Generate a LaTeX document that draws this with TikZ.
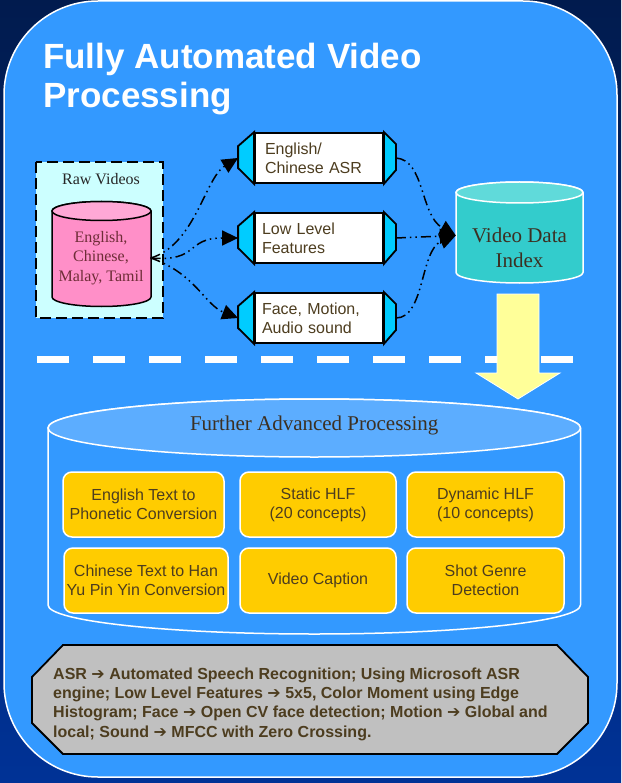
\documentclass[tikz,border=0pt]{standalone}
\usepackage{fontspec}
\setmainfont{Liberation Serif}
\setsansfont{Liberation Sans}
\newfontfamily\arrowsfont{DejaVu Sans}
\usetikzlibrary{arrows.meta}

\definecolor{navytop}{RGB}{1,27,78}
\definecolor{navybot}{RGB}{0,50,150}
\definecolor{panelblue}{RGB}{51,153,255}
\definecolor{lidblue}{RGB}{92,173,255}
\definecolor{rawcyan}{RGB}{204,255,255}
\definecolor{pinkbody}{RGB}{255,143,200}
\definecolor{pinklid}{RGB}{255,168,214}
\definecolor{pinktext}{RGB}{110,45,55}
\definecolor{capcyan}{RGB}{0,204,255}
\definecolor{tealbody}{RGB}{51,204,204}
\definecolor{teallid}{RGB}{96,218,218}
\definecolor{arrowyellow}{RGB}{255,255,153}
\definecolor{boxgold}{RGB}{255,204,0}
\definecolor{notegrey}{RGB}{192,192,192}
\definecolor{txtbrown}{RGB}{77,61,31}
\definecolor{darktext}{RGB}{60,48,34}

\newcommand{\notearrow}{{\arrowsfont\bfseries ➔}}

\tikzset{
  proc/.style={draw=black, line width=1.8pt, fill=white, minimum width=128pt,
    minimum height=50pt, inner sep=0pt, text width=114pt, align=left,
    font=\sffamily\fontsize{16}{19}\selectfont, text=txtbrown},
  capend/.style={draw=black, line width=1.8pt, fill=capcyan, line join=miter},
  flow/.style={line width=1.5pt,
    dash pattern=on 10pt off 4pt on 1.5pt off 4pt on 1.5pt off 4pt,
    -{Triangle[length=16pt,width=15pt]}},
  hlf/.style={draw=white, line width=1.5pt, fill=boxgold, rounded corners=9pt,
    minimum height=65pt, inner sep=0pt, align=center,
    font=\sffamily\fontsize{16}{19}\selectfont, text=txtbrown},
}

\begin{document}
\begin{tikzpicture}[x=1pt, y=-1pt]
\useasboundingbox (0,0) rectangle (621,783);

% backdrop and main panel
\shade[top color=navytop, bottom color=navybot] (0,0) rectangle (621,783);
\filldraw[fill=panelblue, draw=white, line width=1.5pt, rounded corners=94pt]
  (4,1) rectangle (617,777);

% title
\node[anchor=base west, inner sep=0pt, text=white,
  font=\sffamily\bfseries\fontsize{35}{40}\selectfont] (title1) at (43,69) {Fully Automated Video};
\node[anchor=base west, inner sep=0pt, text=white,
  font=\sffamily\bfseries\fontsize{35}{40}\selectfont] (title2) at (43,108) {Processing};

% raw video store
\draw[fill=rawcyan, draw=black, line width=2pt, dash pattern=on 11pt off 5pt]
  (36,162) rectangle (163,318);
\node[font=\fontsize{16}{19}\selectfont, text=black!85] (rawlabel) at (101,179) {Raw Videos};
\filldraw[fill=pinkbody, draw=black, line width=1.5pt]
  (52,211) -- (52,297) arc[start angle=180, end angle=360, x radius=49.5pt, y radius=9.5pt]
  -- (151,211) arc[start angle=0, end angle=180, x radius=49.5pt, y radius=9.5pt] -- cycle;
\filldraw[fill=pinklid, draw=black, line width=1.5pt]
  (101.5,211) ellipse[x radius=49.5pt, y radius=9.5pt];
\node[minimum width=99pt, inner sep=0pt, align=center, text=pinktext,
  font=\fontsize{16}{19.5}\selectfont] (raw) at (101,258) {English,\\Chinese,\\Malay, Tamil};

% processing steps
\node[proc] (asr) at (319,158) {\hspace*{3pt}English/\\\hspace*{3pt}Chinese ASR};
\node[proc] (llf) at (319,238) {Low Level\\Features};
\node[proc] (fma) at (319,318) {Face, Motion,\\Audio sound};
\foreach \n in {asr,llf,fma}{
  \draw[capend] (\n.north west) -- ++(-16,14) -- ++(0,22) -- (\n.south west) -- cycle;
  \draw[capend] (\n.north east) -- ++(12,12) -- ++(0,26) -- (\n.south east) -- cycle;
}

% video data index store
\filldraw[fill=tealbody, draw=white, line width=1.5pt]
  (456,192.5) -- (456,272.5) arc[start angle=180, end angle=360, x radius=63.5pt, y radius=10.5pt]
  -- (583,192.5) arc[start angle=0, end angle=180, x radius=63.5pt, y radius=10.5pt] -- cycle;
\filldraw[fill=teallid, draw=white, line width=1.5pt]
  (519.5,192.5) ellipse[x radius=63.5pt, y radius=10.5pt];
\node[minimum width=127pt, inner sep=0pt, align=center, text=darktext,
  font=\fontsize{21}{25}\selectfont] (vdi) at (519.5,247.5) {Video Data\\Index};

% data flow
\draw[flow] (raw.east) .. controls (195,245) and (205,178) .. ([xshift=-16pt]asr.west);
\draw[flow] (raw.east) .. controls (200,262) and (185,238) .. ([xshift=-16pt]llf.west);
\draw[flow] (raw.east) .. controls (195,273) and (205,305) .. ([xshift=-16pt]fma.west);
\draw[flow] ([xshift=12pt]asr.east) .. controls (425,160) and (420,215) .. ([yshift=12pt]vdi.west);
\draw[flow] ([xshift=12pt]llf.east) -- ([yshift=12pt]vdi.west);
\draw[flow] ([xshift=12pt]fma.east) .. controls (425,318) and (420,250) .. ([yshift=12pt]vdi.west);

% separator
\draw[white, line width=7pt, dash pattern=on 32pt off 24pt] (37,359) -- (573,359);

% big down arrow
\filldraw[fill=arrowyellow, draw=white, line width=0.8pt, line join=miter]
  (497,294) -- (539,294) -- (539,373) -- (560,373) -- (518,399) -- (476,373) -- (497,373) -- cycle;

% further processing store
\filldraw[fill=panelblue, draw=white, line width=1.5pt]
  (48,428) -- (48,605) arc[start angle=180, end angle=360, x radius=266.25pt, y radius=29pt]
  -- (580.5,428) arc[start angle=0, end angle=180, x radius=266.25pt, y radius=29pt] -- cycle;
\filldraw[fill=lidblue, draw=white, line width=1.5pt]
  (314.25,428) ellipse[x radius=266.25pt, y radius=29pt];
\node[text=darktext, font=\fontsize{21}{25}\selectfont] (fap) at (314.25,425) {Further Advanced Processing};

\node[hlf, minimum width=161pt] (etp) at (143.5,504.5) {English Text to\\Phonetic Conversion};
\node[hlf, minimum width=156pt] (shlf) at (318,504.5) {Static HLF\\(20 concepts)};
\node[hlf, minimum width=157pt] (dhlf) at (485.5,504.5) {Dynamic HLF\\(10 concepts)};
\node[hlf, minimum width=164pt] (ctp) at (146,580.5) {Chinese Text to Han\\Yu Pin Yin Conversion};
\node[hlf, minimum width=156pt] (vcap) at (318,580.5) {Video Caption};
\node[hlf, minimum width=157pt] (sgd) at (485.5,580.5) {Shot Genre\\Detection};

% glossary
\filldraw[fill=notegrey, draw=black, line width=1.8pt, line join=miter]
  (63,645) -- (557,645) -- (588,677) -- (588,723) -- (557,754) -- (63,754) -- (32,723) -- (32,677) -- cycle;
\node[anchor=west, inner sep=0pt, align=left, text=txtbrown,
  font=\sffamily\bfseries\fontsize{16}{19.3}\selectfont] (note) at (53,704)
  {ASR \notearrow{} Automated Speech Recognition; Using Microsoft ASR\\
   engine; Low Level Features \notearrow{} 5x5, Color Moment using Edge\\
   Histogram; Face \notearrow{} Open CV face detection; Motion \notearrow{} Global and\\
   local; Sound \notearrow{} MFCC with Zero Crossing.};
\end{tikzpicture}
\end{document}
